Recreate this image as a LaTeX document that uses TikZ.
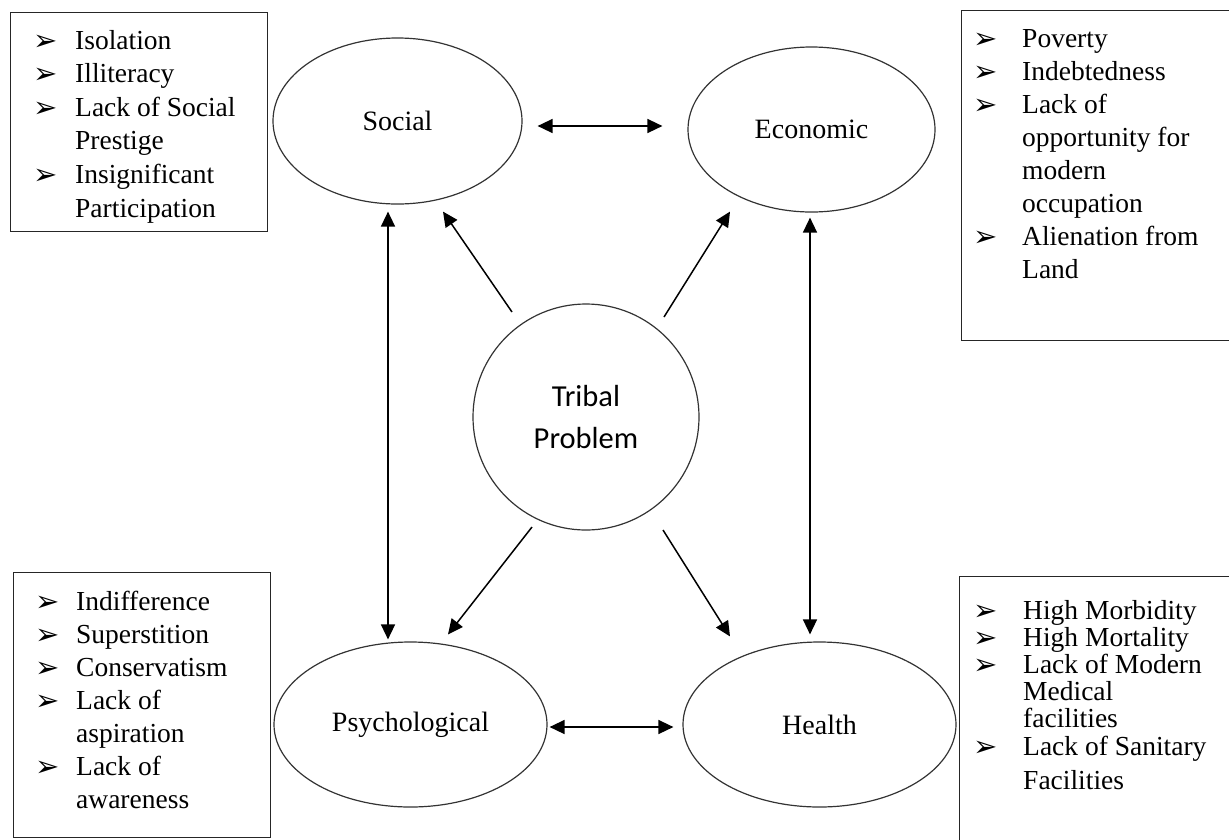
\documentclass[tikz,border=0pt]{standalone}
\usepackage{fontspec}
\setmainfont{Liberation Serif}
\newfontfamily\bulletfont{DejaVu Sans}
\newfontfamily\calfont{Carlito}
\usetikzlibrary{shapes.geometric,arrows.meta}
\newcommand\bul{\raisebox{-1pt}{\bulletfont\fontsize{29}{29}\selectfont ➢}}
\begin{document}
\begin{tikzpicture}[x=1pt,y=-1pt,
  oval/.style={draw=black!80,line width=1.2pt,ellipse,inner sep=0pt,font=\fontsize{28}{33}\selectfont},
  listbox/.style={draw=black!85,line width=1.3pt,anchor=north west,inner sep=0pt},
  listtext/.style={anchor=base west,inner sep=0pt,align=left},
  conn/.style={line width=1.5pt,-{Triangle[length=15pt,width=14pt]}},
  biconn/.style={line width=1.5pt,{Triangle[length=15pt,width=14pt]}-{Triangle[length=15pt,width=14pt]}}]
\useasboundingbox (0,0) rectangle (1229,839);

% ellipses
\node[oval,minimum width=249pt,minimum height=166pt] (soc) at (397.5,121) {Social};
\node[oval,minimum width=247pt,minimum height=165pt] (eco) at (811.5,129.5) {Economic};
\node[oval,minimum width=273pt,minimum height=165pt] (psy) at (410.5,724.5) {Psychological};
\node[oval,minimum width=273pt,minimum height=165pt] (hea) at (819.5,724.5) {Health};
\node[draw=black!80,line width=1.2pt,circle,minimum size=226pt,inner sep=0pt,align=center,
      font=\calfont\fontsize{30.5}{42}\selectfont] (tri) at (586,417) {Tribal\\Problem};

% boxes
\node[listbox,minimum width=257pt,minimum height=219pt] (tlbox) at (10,12) {};
\node[listbox,minimum width=280pt,minimum height=330pt] (trbox) at (961,10) {};
\node[listbox,minimum width=257pt,minimum height=265pt] (blbox) at (13,572) {};
\node[listbox,minimum width=280pt,minimum height=280pt] (brbox) at (959,576) {};

% box texts
\node[listtext,font=\fontsize{27.5}{33.6}\selectfont] (tltext) at (33,49) {%
\begin{tabular}[t]{@{}p{42pt}@{}l@{}}
\bul & Isolation\\ \bul & Illiteracy\\ \bul & Lack of Social\\ & Prestige\\ \bul & Insignificant\\ & Participation
\end{tabular}};
\node[listtext,font=\fontsize{27.5}{33}\selectfont] (trtext) at (973,47) {%
\begin{tabular}[t]{@{}p{49pt}@{}l@{}}
\bul & Poverty\\ \bul & Indebtedness\\ \bul & Lack of\\ & opportunity for\\ & modern\\ & occupation\\ \bul & Alienation from\\ & Land
\end{tabular}};
\node[listtext,font=\fontsize{27.5}{33}\selectfont] (bltext) at (35,610) {%
\begin{tabular}[t]{@{}p{41pt}@{}l@{}}
\bul & Indifference\\ \bul & Superstition\\ \bul & Conservatism\\ \bul & Lack of\\ & aspiration\\ \bul & Lack of\\ & awareness
\end{tabular}};
\node[listtext,font=\fontsize{27.5}{26.5}\selectfont] (brtext) at (973,619) {%
\begin{tabular}[t]{@{}p{50pt}@{}l@{}}
\bul & High Morbidity\\ \bul & High Mortality\\ \bul & Lack of Modern\\ & Medical\\ & facilities\\ \bul & Lack of Sanitary\\[7pt] & Facilities
\end{tabular}};

% connectors
\draw[biconn] ([shift={(15,5)}]soc.east) -- ([shift={(-25,-3.5)}]eco.west);
\draw[biconn] ([shift={(2,2.5)}]psy.east) -- ([shift={(-9,2.5)}]hea.west);
\draw[biconn] ([shift={(-9.5,7)}]soc.south) -- ([shift={(-22.5,-2)}]psy.north);
\draw[biconn] ([shift={(-1.5,5)}]eco.south) -- ([shift={(-9.5,-7)}]hea.north);
\draw[conn] ([shift={(-74,-105)}]tri.center) -- ([shift={(45.5,7)}]soc.south);
\draw[conn] ([shift={(78,-100)}]tri.center) -- ([shift={(-81.5,-1)}]eco.south);
\draw[conn] ([shift={(-54,110)}]tri.center) -- ([shift={(37.5,-7)}]psy.north);
\draw[conn] ([shift={(77,113)}]tri.center) -- ([shift={(-89.5,-5)}]hea.north);
\end{tikzpicture}
\end{document}
